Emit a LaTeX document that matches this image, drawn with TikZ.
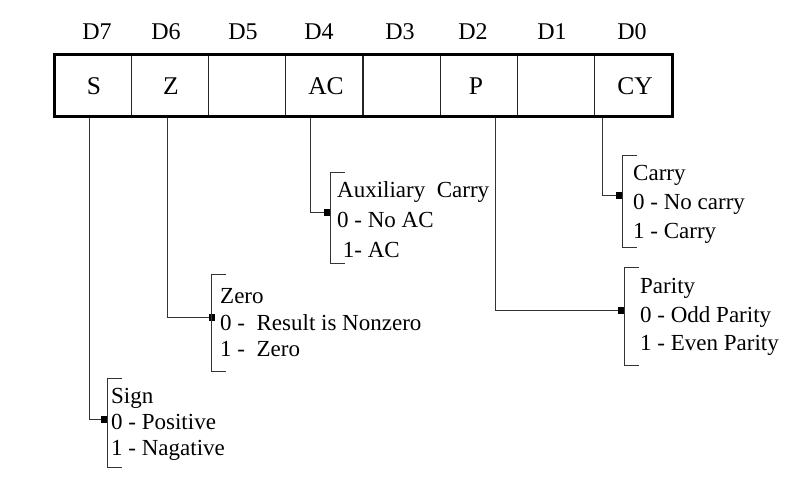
\documentclass[tikz,border=0pt]{standalone}
\usepackage{fontspec}
\setmainfont{Liberation Serif}
\begin{document}
\begin{tikzpicture}[x=1pt,y=-1pt,
  lin/.style={draw=black!80, line width=1pt},
  cell/.style={minimum width=77.25pt, minimum height=61pt, inner sep=0pt, font=\fontsize{25.5}{28}\selectfont},
  bitlab/.style={font=\fontsize{24}{26}\selectfont, inner sep=0pt},
  desc/.style={anchor=west, align=left, inner sep=0pt},
  dotbox/.style={fill=black, minimum width=6pt, minimum height=7pt, inner sep=0pt}]
\useasboundingbox (0,0) rectangle (802,487);
% header labels
\node[bitlab] (d7) at (97,32) {D7};
\node[bitlab] (d6) at (166,32) {D6};
\node[bitlab] (d5) at (243,32) {D5};
\node[bitlab] (d4) at (319,32) {D4};
\node[bitlab] (d3) at (400,32) {D3};
\node[bitlab] (d2) at (473,32) {D2};
\node[bitlab] (d1) at (552,32) {D1};
\node[bitlab] (d0) at (632,32) {D0};
% cells
\node[cell] (c7) at (94,86) {S};
\node[cell] (c6) at (171,86) {Z};
\node[cell] (c5) at (247.1,86) {};
\node[cell] (c4) at (326,86) {AC};
\node[cell] (c3) at (401.6,86) {};
\node[cell] (c2) at (476,86) {P};
\node[cell] (c1) at (556.1,86) {};
\node[cell] (c0) at (635,86) {CY};
\foreach \x in {131.2,208.5,285.7,363,440.2,517.5,594.7}
  \draw[draw=black!85, line width=1.3pt] (\x,55) -- (\x,116);
\draw[line width=3pt] (54,55) rectangle (672,116);
% top coordinates of connectors
\coordinate (sTop) at (89,117.5);
\coordinate (zTop) at (167,117.5);
\coordinate (aTop) at (310,117.5);
\coordinate (pTop) at (495,117.5);
\coordinate (cTop) at (602,117.5);
% dots
\node[dotbox] (sDot) at (104,419) {};
\node[dotbox] (zDot) at (212,317) {};
\node[dotbox] (aDot) at (327,212) {};
\node[dotbox] (cDot) at (619,195) {};
\node[dotbox] (pDot) at (621,310) {};
% connectors
\draw[lin] (sTop) |- (sDot.west);
\draw[lin] (zTop) |- (zDot.west);
\draw[lin] (aTop) |- (aDot.west);
\draw[lin] (cTop) |- (cDot.west);
\draw[lin] (pTop) |- (pDot.west);
% brackets
\draw[lin] (122,378) -- (107,378) -- (107,467) -- (122,467);
\draw[lin] (226,274) -- (211,274) -- (211,371) -- (226,371);
\draw[lin] (345,172) -- (330,172) -- (330,263) -- (345,263);
\draw[lin] (637,155) -- (622,155) -- (622,247) -- (637,247);
\draw[lin] (639,267) -- (624,267) -- (624,365) -- (639,365);
% descriptions
\node[desc, font=\fontsize{23}{26}\selectfont] (sTxt) at (111,424) {Sign\\0 - Positive\\1 - Nagative};
\node[desc, font=\fontsize{23}{26.5}\selectfont] (zTxt) at (220,323) {Zero\\0 -\ \ Result is Nonzero\\1 -\ \ Zero};
\node[desc, font=\fontsize{23}{30}\selectfont] (aTxt) at (337,220) {Auxiliary\ \ Carry\\0 - No AC\\\ 1- AC};
\node[desc, font=\fontsize{23}{29}\selectfont] (cTxt) at (633,204) {Carry\\0 - No carry\\1 - Carry};
\node[desc, font=\fontsize{23}{28.5}\selectfont] (pTxt) at (640,317) {Parity\\0 - Odd Parity\\1 - Even Parity};
\end{tikzpicture}
\end{document}
